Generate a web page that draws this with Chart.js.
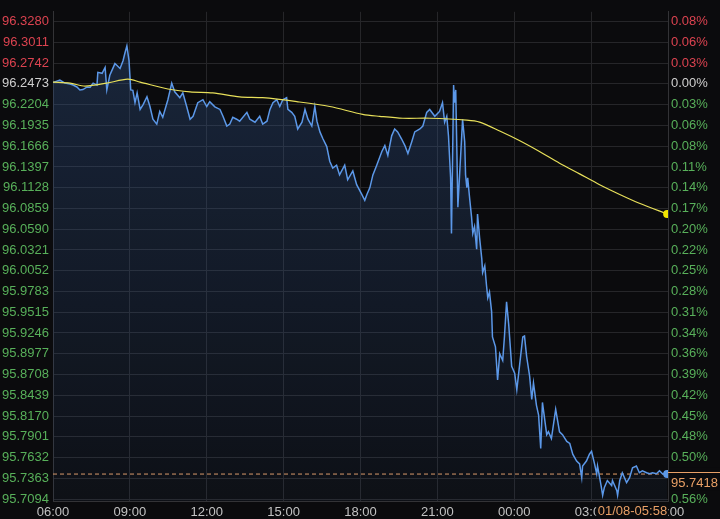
<!DOCTYPE html>
<html>
<head>
<meta charset="utf-8">
<script src="https://cdn.jsdelivr.net/npm/chart.js@4.4.1/dist/chart.umd.min.js"></script>
<style>
  html, body { margin: 0; padding: 0; background: #0b0b0d; }
  #wrap { width: 720px; height: 519px; }
</style>
</head>
<body>
<div id="wrap"><canvas id="priceChart" width="720" height="519"></canvas></div>
<script>
// Minutes after 06:00 and the traded price
const priceTimes = [
    0, 9, 16, 28, 40, 47, 56, 63, 70, 80, 87, 94, 103, 105, 115, 122, 126, 133, 138, 145,
    150, 157, 164, 168, 173, 178, 182, 187, 192, 197, 204, 211, 220, 227, 234, 243, 250, 257, 269, 278,
    285, 297, 304, 313, 321, 328, 339, 351, 360, 367, 379, 391, 398, 407, 414, 421, 430, 437, 454, 461,
    473, 484, 491, 501, 508, 515, 524, 531, 538, 547, 550, 559, 566, 573, 583, 590, 597, 606, 613, 618,
    625, 632, 641, 648, 655, 664, 671, 683, 690, 702, 711, 723, 730, 735, 742, 749, 758, 770, 777, 784,
    793, 800, 807, 816, 824, 831, 840, 847, 859, 866, 875, 882, 894, 905, 912, 917, 922, 926, 931, 933,
    936, 938, 940, 943, 945, 948, 952, 957, 959, 964, 966, 969, 971, 976, 980, 983, 987, 992, 994, 999,
    1004, 1006, 1011, 1015, 1018, 1022, 1027, 1029, 1036, 1041, 1046, 1053, 1057, 1062, 1067, 1074, 1081, 1086, 1093, 1100,
    1104, 1109, 1116, 1121, 1125, 1132, 1137, 1142, 1146, 1156, 1160, 1167, 1177, 1186, 1193, 1203, 1210, 1217, 1226, 1233,
    1238, 1240, 1249, 1256, 1261, 1268, 1273, 1275, 1280, 1284, 1287, 1291, 1298, 1308, 1310, 1320, 1322, 1327, 1333, 1343,
    1350, 1357, 1366, 1373, 1380, 1390, 1397, 1404, 1413, 1420, 1427, 1438
];
const priceValues = [
    96.2490, 96.2509, 96.2521, 96.2483, 96.2471, 96.2458, 96.2433, 96.2395, 96.2400, 96.2433,
    96.2430, 96.2483, 96.2458, 96.2623, 96.2610, 96.2686, 96.2395, 96.2585, 96.2648, 96.2736,
    96.2711, 96.2673, 96.2774, 96.2863, 96.2964, 96.2774, 96.2395, 96.2390, 96.2230, 96.2357,
    96.2142, 96.2205, 96.2306, 96.2180, 96.2015, 96.1952, 96.2116, 96.2041, 96.2268, 96.2483,
    96.2370, 96.2294, 96.2357, 96.2180, 96.2015, 96.2053, 96.2230, 96.2268, 96.2180, 96.2243,
    96.2175, 96.2142, 96.2053, 96.1927, 96.1952, 96.2041, 96.2015, 96.1990, 96.2104, 96.2015,
    96.1977, 96.2053, 96.1952, 96.1990, 96.2142, 96.2230, 96.2268, 96.2180, 96.2268, 96.2294,
    96.2142, 96.2104, 96.2053, 96.1889, 96.1977, 96.2142, 96.2015, 96.1927, 96.2180, 96.1990,
    96.1851, 96.1762, 96.1661, 96.1471, 96.1383, 96.1420, 96.1294, 96.1420, 96.1231, 96.1345,
    96.1167, 96.1041, 96.0965, 96.1041, 96.1129, 96.1294, 96.1420, 96.1598, 96.1674, 96.1547,
    96.1800, 96.1889, 96.1851, 96.1762, 96.1674, 96.1572, 96.1724, 96.1851, 96.1889, 96.1927,
    96.2104, 96.2142, 96.2053, 96.2116, 96.2230, 96.1977, 96.2053, 96.1800, 96.1256, 96.0535,
    96.1674, 96.2458, 96.2230, 96.2395, 96.1800, 96.0876, 96.1294, 96.1800, 96.2015, 96.1724,
    96.1294, 96.1129, 96.1256, 96.0965, 96.0750, 96.0535, 96.0623, 96.0332, 96.0788, 96.0471,
    96.0206, 96.0029, 96.0117, 95.9864, 95.9700, 95.9776, 95.9523, 95.9194, 95.9067, 95.8637,
    95.8978, 95.8890, 95.9194, 95.9649, 95.9358, 95.8814, 95.8725, 95.8510, 95.8852, 95.9194,
    95.9206, 95.8941, 95.8687, 95.8384, 95.8599, 95.8308, 95.8181, 95.7751, 95.8346, 95.7928,
    95.7966, 95.7878, 95.8257, 95.7966, 95.7928, 95.7840, 95.7814, 95.7675, 95.7587, 95.7549,
    95.7372, 95.7523, 95.7587, 95.7675, 95.7713, 95.7549, 95.7422, 95.7523, 95.7372, 95.7245,
    95.7144, 95.7245, 95.7334, 95.7270, 95.7334, 95.7207, 95.7144, 95.7334, 95.7435, 95.7308,
    95.7372, 95.7498, 95.7523, 95.7435, 95.7460, 95.7435, 95.7422, 95.7435, 95.7422, 95.7460,
    95.7422, 95.7418
];

// Average price line
const avgTimes = [0, 40, 75, 126, 175, 204, 269, 321, 374, 437, 491, 571, 648, 725, 765, 819, 882, 969, 999, 1046, 1093, 1139, 1186, 1233, 1280, 1327, 1373, 1438];
const avgValues = [
    96.2496, 96.2483, 96.2445, 96.2483, 96.2534, 96.2496, 96.2407, 96.2370, 96.2357, 96.2306,
    96.2294, 96.2243, 96.2180, 96.2078, 96.2053, 96.2028, 96.2028, 96.2003, 96.1977, 96.1863,
    96.1737, 96.1598, 96.1446, 96.1307, 96.1167, 96.1041, 96.0927, 96.0788
];

const prevClose = 96.2473;
const lastPrice = 95.7418;
const lastTimeLabel = '01/08-05:58';

const yTicks = [
    96.3280, 96.3011, 96.2742, 96.2473, 96.2204, 96.1935, 96.1666, 96.1397, 96.1128, 96.0859,
    96.0590, 96.0321, 96.0052, 95.9783, 95.9515, 95.9246, 95.8977, 95.8708, 95.8439, 95.8170,
    95.7901, 95.7632, 95.7363, 95.7094
];
const xTickLabels = ['06:00', '09:00', '12:00', '15:00', '18:00', '21:00', '00:00', '03:00', '06:00'];

const RED = '#dc4350';
const GREEN = '#58b05a';
const FLAT = '#cfcfcf';
const ORANGE = '#e9a066';
const FONT = '"Liberation Sans", Arial, sans-serif';

function tickColor(c) {
    const v = c.tick.value;
    if (Math.abs(v - prevClose) < 1e-6) return FLAT;
    return v > prevClose ? RED : GREEN;
}

const lastIdx = priceValues.length - 1;
const avgLastIdx = avgValues.length - 1;

// label boxes drawn on top (last price + last time)
const markerPlugin = {
    id: 'markers',
    afterDraw(chart) {
        const { ctx, chartArea } = chart;
        const yScale = chart.scales.y;
        const py = Math.round(yScale.getPixelForValue(lastPrice)) - 1.5;
        ctx.save();
        // price box on the right axis
        ctx.fillStyle = '#0b0b0d';
        ctx.fillRect(chartArea.right + 1, py - 5, 720 - chartArea.right, 23);
        ctx.strokeStyle = ORANGE;
        ctx.lineWidth = 1;
        ctx.beginPath();
        ctx.moveTo(chartArea.right, py);
        ctx.lineTo(720, py);
        ctx.stroke();
        ctx.fillStyle = ORANGE;
        ctx.font = '13px ' + FONT;
        ctx.textBaseline = 'middle';
        ctx.textAlign = 'left';
        ctx.fillText(lastPrice.toFixed(4), chartArea.right + 3, py + 11);
        // time box on the bottom axis
        const tx = chart.scales.x.getPixelForValue(priceTimes[lastIdx]);
        ctx.fillStyle = '#0b0b0d';
        ctx.fillRect(tx - 71, chartArea.bottom + 1, 72, 18);
        ctx.fillStyle = ORANGE;
        ctx.textAlign = 'right';
        ctx.fillText(lastTimeLabel, tx, chartArea.bottom + 10);
        ctx.restore();
    }
};

const canvas = document.getElementById('priceChart');
const ctx = canvas.getContext('2d');

const chart = new Chart(ctx, {
    type: 'line',
    data: {
        datasets: [
            {
                label: 'Last',
                data: [{ x: 0, y: lastPrice }, { x: 1440, y: lastPrice }],
                borderColor: ORANGE,
                borderWidth: 1,
                borderDash: [4, 3],
                pointRadius: 0,
                fill: false,
                order: 3
            },
            {
                label: 'Price',
                data: priceTimes.map((t, i) => ({ x: t, y: priceValues[i] })),
                borderColor: '#5c98e8',
                borderWidth: 1.5,
                tension: 0,
                pointRadius: c => c.dataIndex === lastIdx ? 4 : 0,
                pointBackgroundColor: '#5c98e8',
                pointBorderWidth: 0,
                fill: 'start',
                backgroundColor: c => {
                    const area = c.chart.chartArea;
                    if (!area) return 'rgba(40,70,120,0.2)';
                    const g = c.chart.ctx.createLinearGradient(0, area.top, 0, area.bottom);
                    g.addColorStop(0, 'rgba(50,85,140,0.38)');
                    g.addColorStop(1, 'rgba(50,85,140,0.08)');
                    return g;
                },
                order: 2
            },
            {
                label: 'Average',
                data: avgTimes.map((t, i) => ({ x: t, y: avgValues[i] })),
                borderColor: '#e8e05a',
                borderWidth: 1.2,
                tension: 0.3,
                pointRadius: c => c.dataIndex === avgLastIdx ? 4 : 0,
                pointBackgroundColor: '#f2e600',
                pointBorderWidth: 0,
                fill: false,
                order: 1
            }
        ]
    },
    options: {
        responsive: false,
        animation: false,
        layout: { padding: 0 },
        plugins: {
            legend: { display: false },
            tooltip: { enabled: false }
        },
        scales: {
            x: {
                type: 'linear',
                min: 0,
                max: 1440,
                afterBuildTicks: scale => {
                    scale.ticks = xTickLabels.map((_, i) => ({ value: i * 180 }));
                },
                afterFit: scale => { scale.height = 18; },
                grid: { color: '#262629', drawTicks: false },
                border: { color: '#333336' },
                ticks: {
                    autoSkip: false,
                    maxRotation: 0,
                    padding: 4,
                    color: '#c2c2c2',
                    font: { family: FONT, size: 13 },
                    callback: value => xTickLabels[Math.round(value / 180)]
                }
            },
            y: {
                position: 'left',
                min: 95.7069,
                max: 96.3407,
                afterBuildTicks: scale => {
                    scale.ticks = yTicks.map(v => ({ value: v }));
                },
                afterFit: scale => { scale.width = 53; },
                grid: { color: '#262629', drawTicks: false },
                border: { color: '#333336' },
                ticks: {
                    padding: 4,
                    color: tickColor,
                    font: { family: FONT, size: 13 },
                    callback: value => value.toFixed(4)
                }
            },
            y2: {
                position: 'right',
                min: 95.7069,
                max: 96.3407,
                afterBuildTicks: scale => {
                    scale.ticks = yTicks.map(v => ({ value: v }));
                },
                afterFit: scale => { scale.width = 52; },
                grid: { drawOnChartArea: false, drawTicks: false },
                border: { color: '#333336' },
                ticks: {
                    padding: 3,
                    color: tickColor,
                    font: { family: FONT, size: 13 },
                    callback: value => (Math.abs(value - prevClose) / prevClose * 100).toFixed(2) + '%'
                }
            }
        }
    },
    plugins: [markerPlugin]
});
</script>
</body>
</html>
